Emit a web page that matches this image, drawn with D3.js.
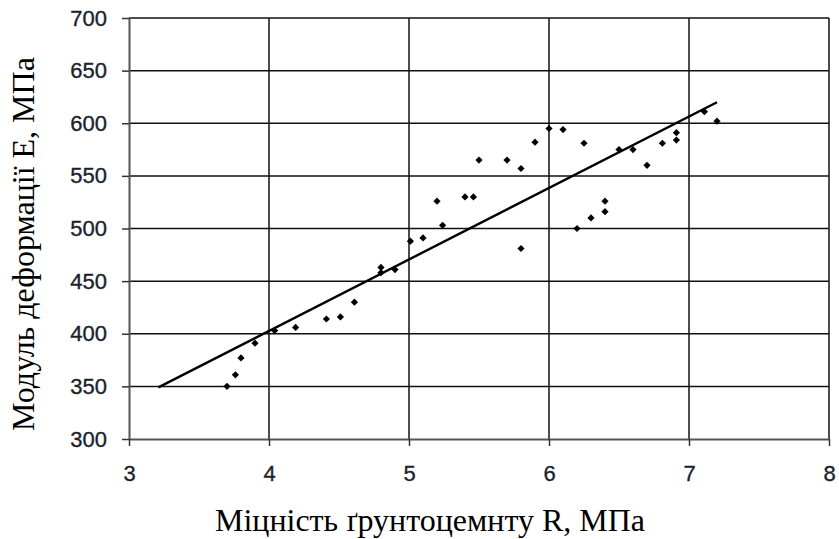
<!DOCTYPE html>
<html>
<head>
<meta charset="utf-8">
<script src="https://cdn.jsdelivr.net/npm/d3@7"></script>
<style>
  body { margin: 0; background: #fff; }
  svg { display: block; }
</style>
</head>
<body>
<div id="chart"></div>
<script>
// chart size
var width = 839
var height = 539
var margin = { top: 18, right: 10, bottom: 100, left: 129 }

// measured points: strength R (MPa) and deformation modulus E (MPa)
var strengthR = [3.70, 3.76, 3.80, 3.90, 4.04, 4.19, 4.41, 4.51, 4.61, 4.80, 4.80, 4.90,
    5.01, 5.10, 5.20, 5.24, 5.40, 5.46, 5.50, 5.70, 5.80, 5.80, 5.90, 6.00, 6.10,
    6.25, 6.20, 6.30, 6.40, 6.40, 6.50, 6.60, 6.70, 6.81, 6.91, 6.91, 7.11, 7.20]
var modulusE = [350, 361, 377, 391, 403, 406, 414, 416, 430, 463, 458, 461,
    488, 491, 526, 503, 530, 530, 565, 565, 557, 481, 582, 595, 594,
    581, 500, 510, 516, 526, 575, 575, 560, 581, 584, 591, 611, 602]

// linear trend line end points
var trendR = [3.21, 7.20]
var trendE = [349, 620]

// tick values
var xTicks = [3, 4, 5, 6, 7, 8]
var yTicks = [300, 350, 400, 450, 500, 550, 600, 650, 700]

var xLabel = "Міцність ґрунтоцемнту R, МПа"
var yLabel = "Модуль деформації Е, МПа"

var svg = d3.select("#chart")
    .append("svg")
    .attr("width", width)
    .attr("height", height)

var x = d3.scaleLinear().domain([3, 8]).range([margin.left, width - margin.right])
var y = d3.scaleLinear().domain([300, 700]).range([height - margin.bottom, margin.top])

// grid
svg.append("g")
    .selectAll("line")
    .data(yTicks.slice(1))
    .enter()
    .append("line")
    .attr("x1", margin.left)
    .attr("x2", width - margin.right)
    .attr("y1", function(d) { return y(d) })
    .attr("y2", function(d) { return y(d) })
    .attr("stroke", "#111")
    .attr("stroke-width", 1.5)

svg.append("g")
    .selectAll("line")
    .data(xTicks.slice(1))
    .enter()
    .append("line")
    .attr("y1", margin.top)
    .attr("y2", height - margin.bottom)
    .attr("x1", function(d) { return x(d) })
    .attr("x2", function(d) { return x(d) })
    .attr("stroke", "#111")
    .attr("stroke-width", 1.5)

// axes
svg.append("g")
    .attr("transform", "translate(" + margin.left + ",0)")
    .call(d3.axisLeft(y).tickValues(yTicks).tickFormat(d3.format("d"))
        .tickSize(7).tickPadding(15).tickSizeOuter(0))

svg.append("g")
    .attr("transform", "translate(0," + (height - margin.bottom) + ")")
    .call(d3.axisBottom(x).tickValues(xTicks).tickFormat(d3.format("d"))
        .tickSize(7).tickPadding(19).tickSizeOuter(0))

svg.selectAll(".domain").attr("stroke", "#555").attr("stroke-width", 2)
svg.selectAll(".tick line").attr("stroke", "#333").attr("stroke-width", 1.5)
svg.selectAll(".tick text")
    .attr("fill", "#1c1f2c")
    .attr("stroke", "#1c1f2c")
    .attr("stroke-width", 0.35)
    .style("font-family", "'Liberation Sans', Arial, sans-serif")
    .style("font-size", "22px")

// trend line
svg.append("line")
    .attr("x1", x(trendR[0]))
    .attr("y1", y(trendE[0]))
    .attr("x2", x(trendR[1]))
    .attr("y2", y(trendE[1]))
    .attr("stroke", "#000")
    .attr("stroke-width", 2.4)

// points
svg.append("g")
    .selectAll("path")
    .data(strengthR)
    .enter()
    .append("path")
    .attr("d", d3.symbol().type(d3.symbolSquare).size(26))
    .attr("transform", function(d, i) { return "translate(" + x(d) + "," + y(modulusE[i]) + ") rotate(45)" })
    .attr("fill", "#000")

// axis titles
svg.append("text")
    .attr("x", 430)
    .attr("y", 531)
    .attr("text-anchor", "middle")
    .style("font-family", "'Liberation Serif', 'Times New Roman', serif")
    .style("font-size", "32px")
    .text(xLabel)

svg.append("text")
    .attr("transform", "translate(34,244) rotate(-90)")
    .attr("text-anchor", "middle")
    .style("font-family", "'Liberation Serif', 'Times New Roman', serif")
    .style("font-size", "32px")
    .text(yLabel)
</script>
</body>
</html>
